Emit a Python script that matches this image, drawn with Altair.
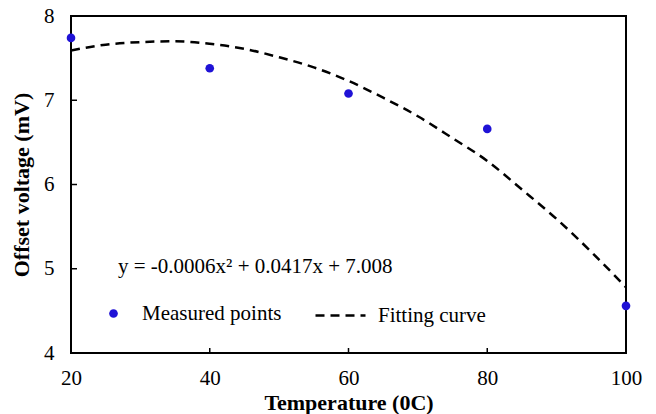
import altair as alt
import pandas as pd

# Measured points
temp_points = [20, 40, 60, 80, 100]
offset_points = [7.74, 7.38, 7.08, 6.66, 4.56]

# Fitting curve
temp_curve = [20, 25, 30, 35, 40, 45, 50, 55, 60, 65, 70, 75, 80, 85, 90, 95, 100]
offset_curve = [7.59, 7.66, 7.69, 7.70, 7.67, 7.61, 7.51, 7.39, 7.23, 7.03,
                6.81, 6.55, 6.28, 5.94, 5.59, 5.20, 4.78]

x_ticks = [20, 40, 60, 80, 100]
y_ticks = [4, 5, 6, 7, 8]
x_inner_ticks = [40, 60, 80]
y_inner_ticks = [5, 6, 7]

point_label = "Measured points"
curve_label = "Fitting curve"
equation = "y = -0.0006x\u00b2 + 0.0417x + 7.008"
x_title = "Temperature  (0C)"
y_title = "Offset voltage (mV)"

FONT = "Liberation Serif"
BLUE = "#1f12d6"

pts = pd.DataFrame({"t": temp_points, "v": offset_points, "series": point_label})
crv = pd.DataFrame({"t": temp_curve, "v": offset_curve, "series": curve_label})
xt = pd.DataFrame({"t": x_inner_ticks})
yt = pd.DataFrame({"v": y_inner_ticks})
eq = pd.DataFrame({"txt": [equation]})

xscale = alt.Scale(domain=[20, 100], nice=False, zero=False)
yscale = alt.Scale(domain=[4, 8], nice=False, zero=False)

xaxis = alt.Axis(values=x_ticks, title=x_title, grid=False, ticks=False, domain=False, format="d",
                 labelFont=FONT, labelFontSize=21, labelColor="black", labelPadding=14,
                 titleFont=FONT, titleFontSize=22, titleFontWeight="bold", titleColor="black",
                 titlePadding=4, labelFlush=False)
yaxis = alt.Axis(values=y_ticks, title=y_title, grid=False, ticks=False, domain=False, format="d",
                 labelFont=FONT, labelFontSize=21, labelColor="black", labelPadding=17,
                 titleFont=FONT, titleFontSize=22, titleFontWeight="bold", titleColor="black",
                 titlePadding=10, labelFlush=False)

curve = alt.Chart(crv).mark_line(color="black", strokeWidth=2.5, interpolate="monotone").encode(
    x=alt.X("t:Q", scale=xscale, axis=xaxis),
    y=alt.Y("v:Q", scale=yscale, axis=yaxis),
    strokeDash=alt.StrokeDash(
        "series:N",
        scale=alt.Scale(domain=[curve_label], range=[[9, 6]]),
        legend=alt.Legend(title=None, orient="none", legendX=243, legendY=273, padding=0,
                          symbolType="stroke", symbolSize=2500, symbolStrokeColor="black",
                          symbolStrokeWidth=2.5, labelFont=FONT, labelFontSize=21,
                          labelColor="black", labelOffset=11),
    ),
)

points = alt.Chart(pts).mark_circle(size=75, opacity=1).encode(
    x=alt.X("t:Q", scale=xscale),
    y=alt.Y("v:Q", scale=yscale),
    color=alt.Color(
        "series:N",
        scale=alt.Scale(domain=[point_label], range=[BLUE]),
        legend=alt.Legend(title=None, orient="none", legendX=32, legendY=287, padding=0,
                          symbolType="circle", symbolSize=75, symbolOpacity=1,
                          labelFont=FONT, labelFontSize=21, labelColor="black", labelOffset=18),
    ),
)

xtick_marks = alt.Chart(xt).mark_rule(color="black", strokeWidth=1.5).encode(
    x=alt.X("t:Q", scale=xscale),
    y=alt.Y(datum=4, scale=yscale),
    y2=alt.value(332),
)
ytick_marks = alt.Chart(yt).mark_rule(color="black", strokeWidth=1.5).encode(
    y=alt.Y("v:Q", scale=yscale),
    x=alt.X(datum=20, scale=xscale),
    x2=alt.value(6),
)

eq_text = alt.Chart(eq).mark_text(font=FONT, fontSize=21, align="left", baseline="alphabetic",
                                  color="black").encode(
    text="txt:N",
    x=alt.value(47),
    y=alt.value(257),
)

chart = alt.layer(xtick_marks, ytick_marks, curve, points, eq_text).properties(
    width=555, height=337,
    autosize=alt.AutoSizeParams(type="none"),
    padding={"left": 63, "top": 8, "right": 22, "bottom": 70},
).configure(background="white", font=FONT).configure_view(stroke="black", strokeWidth=2)

chart.save("out.html", embed_options={"renderer": "svg", "actions": False})
